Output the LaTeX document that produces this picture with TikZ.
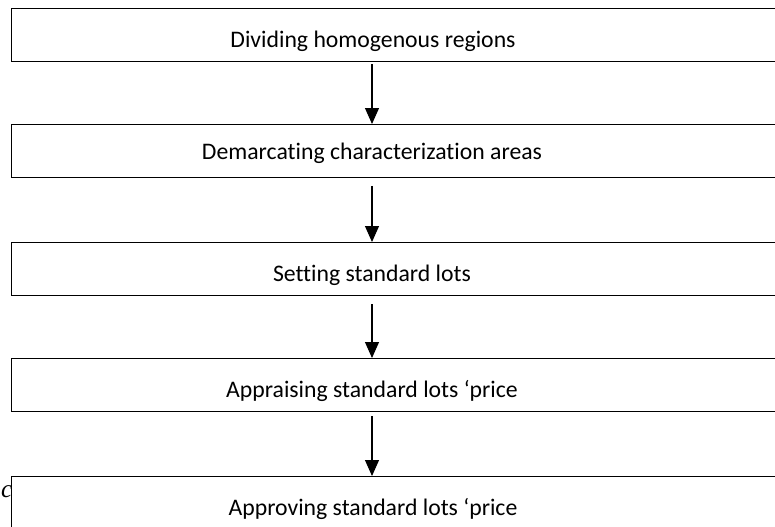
\documentclass[tikz,border=0pt]{standalone}
\usepackage{fontspec}
\setmainfont[RawFeature={-liga}]{Carlito}
\newfontfamily\serifit{Liberation Serif}
\usetikzlibrary{arrows.meta}
\begin{document}
\begin{tikzpicture}[x=0.75pt,y=-0.75pt,
  stepbox/.style={draw=black, line width=1.1pt, anchor=north west, inner sep=0pt,
    minimum width=600pt, minimum height=39.75pt},
  steptext/.style={anchor=base, inner sep=0pt, font=\fontsize{17.8}{21}\selectfont},
  flow/.style={line width=0.8pt, -{Triangle[width=10.5pt,length=12pt]}}]
\useasboundingbox (0,0) rectangle (775,526);
\clip (0,0) rectangle (775,526);
\node[stepbox] (b1) at (10.7,8) {};
\node[stepbox] (b2) at (10.7,124) {};
\node[stepbox] (b3) at (10.7,242) {};
\node[stepbox] (b4) at (10.7,358) {};
\node[stepbox] (b5) at (10.7,476) {};
\node[steptext] (t1) at (373,47.3) {Dividing homogenous regions};
\node[steptext] (t2) at (372,159.5) {Demarcating characterization areas};
\node[steptext] (t3) at (372,281.3) {Setting standard lots};
\node[steptext] (t4) at (372,397.3) {Appraising standard lots ‘price};
\node[steptext] (t5) at (373,515.3) {Approving standard lots ‘price};
\node[anchor=base west, inner sep=0pt, font=\serifit\itshape\fontsize{19}{23}\selectfont] (c) at (0.8,497) {c};
\draw[flow, shorten <=1.5pt] (b1.south -| t2) -- (b2.north -| t2);
\draw[flow, shorten <=5.5pt] (b2.south -| t2) -- (b3.north -| t2);
\draw[flow, shorten <=6pt] (b3.south -| t2) -- (b4.north -| t2);
\draw[flow, shorten <=3pt] (b4.south -| t2) -- (b5.north -| t2);
\end{tikzpicture}
\end{document}
